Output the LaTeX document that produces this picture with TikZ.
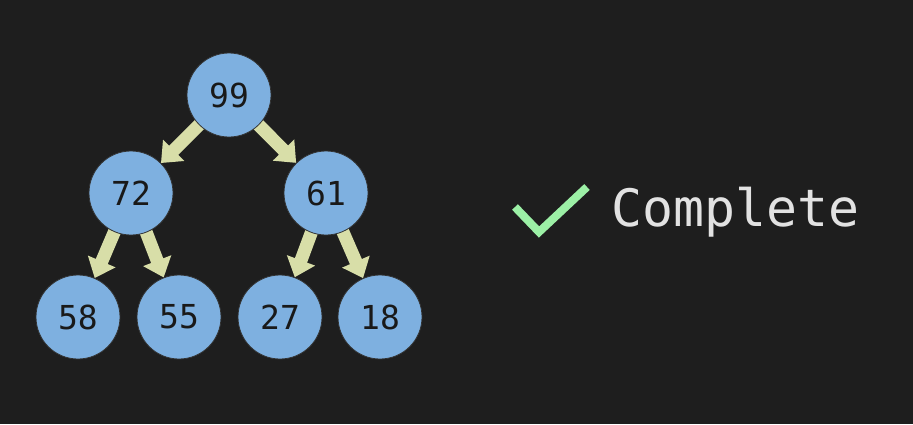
\documentclass[tikz,border=0pt]{standalone}
\usepackage{fontspec}
\setmonofont{DejaVu Sans Mono}
\usetikzlibrary{arrows.meta,backgrounds}
\definecolor{bg}{HTML}{1E1E1E}
\definecolor{nodefill}{HTML}{7EB0E0}
\definecolor{arrowcol}{HTML}{D8DEA8}
\definecolor{checkcol}{HTML}{9CF0A6}
\definecolor{txtcol}{HTML}{E2E2E2}
\tikzset{
  heapnode/.style={circle, fill=nodefill, draw=black!80, line width=0.8pt,
    minimum size=84pt, inner sep=0pt, font=\ttfamily\fontsize{33}{33}\selectfont, text=black!90},
  heaparrow/.style={draw=arrowcol, line width=13pt,
    -{Triangle[width=29pt,length=18pt]}, shorten <=-6pt}
}
\begin{document}
\begin{tikzpicture}[x=1pt,y=-1pt]
\useasboundingbox (0,0) rectangle (913,424);
% visible nodes
\node[heapnode] (n99) at (229,95) {99};
\node[heapnode] (n72) at (131,193) {72};
\node[heapnode] (n61) at (326,193) {61};
\node[heapnode] (n58) at (78,317) {58};
\node[heapnode] (n55) at (179,317) {55};
\node[heapnode] (n27) at (280,317) {27};
\node[heapnode] (n18) at (380,317) {18};
\begin{scope}[on background layer]
\fill[bg] (0,0) rectangle (913,424);
\draw[heaparrow] (n99) -- (n72);
\draw[heaparrow] (n99) -- (n61);
\draw[heaparrow] (n72) -- (n58);
\draw[heaparrow] (n72) -- (n55);
\draw[heaparrow] (n61) -- (n27);
\draw[heaparrow] (n61) -- (n18);
\end{scope}
% check mark
\coordinate (c1) at (515,207);
\coordinate (c2) at (539,232);
\coordinate (c3) at (587,187);
\draw[checkcol, line width=8pt, line cap=butt, line join=miter] (c1) -- (c2) -- (c3);
\node[font=\ttfamily\fontsize{51.5}{51.5}\selectfont, text=txtcol, anchor=west, inner sep=0pt] (lbl) at (611,212) {Complete};
\end{tikzpicture}
\end{document}
